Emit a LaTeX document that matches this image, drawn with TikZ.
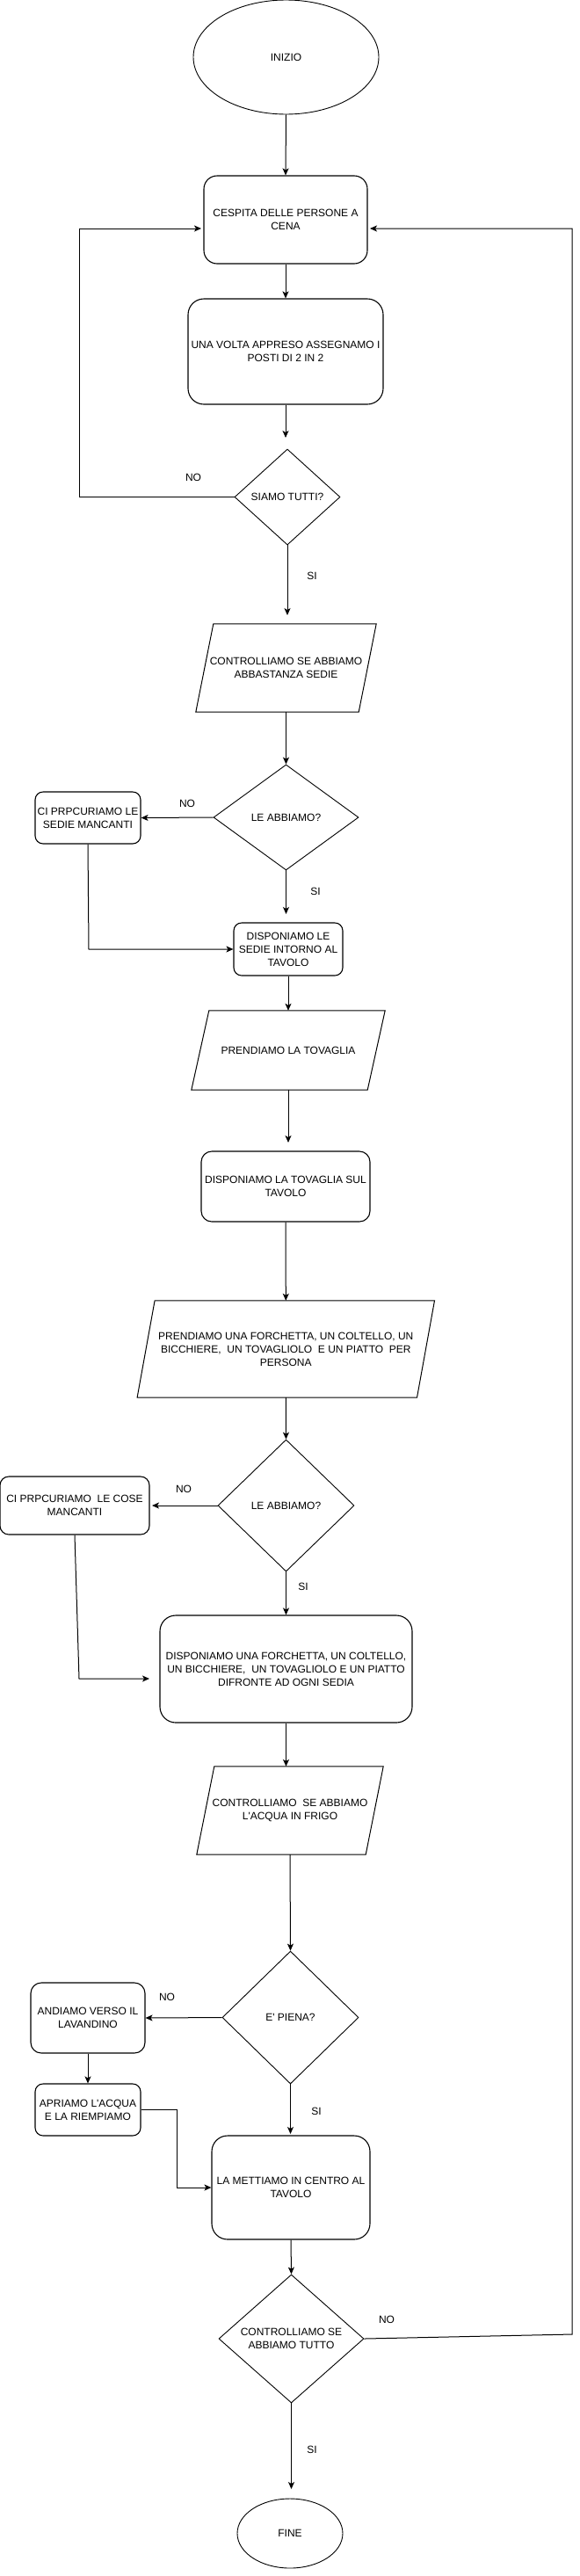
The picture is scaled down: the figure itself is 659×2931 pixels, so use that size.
\documentclass[tikz,border=0pt]{standalone}
\usepackage{fontspec}
\setmainfont{Liberation Sans}[Ligatures=TeXOff]
\usetikzlibrary{shapes.geometric,arrows.meta,calc}
\begin{document}
\begin{tikzpicture}[x=1pt,y=-1pt,
  every node/.style={font=\fontsize{12}{15}\selectfont, align=center, inner sep=0pt},
  box/.style={draw, rectangle, line width=1.1pt},
  dia/.style={draw, diamond, aspect=1, line width=0.9pt},
  ell/.style={draw, ellipse, line width=0.9pt},
  arr/.style={-{Stealth[length=8pt,width=7pt,inset=2pt]}, line width=1pt},
  ln/.style={line width=1pt},
  lbl/.style={}
]
\useasboundingbox (0,0) rectangle (659,2931);

% nodes
\node[ell, minimum width=211pt, minimum height=130pt] (inizio) at (325.5,65) {INIZIO};
\node[box, rounded corners=15pt, minimum width=186pt, minimum height=100pt] (b1) at (325,250) {CESPITA DELLE PERSONE A\\CENA};
\node[box, rounded corners=18pt, minimum width=222pt, minimum height=120pt] (b2) at (325,400) {UNA VOLTA APPRESO ASSEGNAMO I\\POSTI DI 2 IN 2};
\node[dia, minimum width=120pt, minimum height=109pt] (d1) at (327,565.5) {SIAMO TUTTI?};
\node[minimum width=185pt, minimum height=100pt] (p1) at (325.5,760) {CONTROLLIAMO SE ABBIAMO\\ABBASTANZA SEDIE};
\node[dia, minimum width=165pt, minimum height=120pt] (d2) at (325.5,930) {LE ABBIAMO?};
\node[box, rounded corners=9pt, minimum width=120pt, minimum height=59pt] (s1) at (100,930.5) {CI PRPCURIAMO LE\\SEDIE MANCANTI};
\node[box, rounded corners=9pt, minimum width=124pt, minimum height=60pt] (m1) at (328,1080) {DISPONIAMO LE\\SEDIE INTORNO AL\\TAVOLO};
\node[minimum width=200pt, minimum height=90pt] (p2) at (328,1195) {PRENDIAMO LA TOVAGLIA};
\node[box, rounded corners=12pt, minimum width=192pt, minimum height=80pt] (tov) at (325,1350) {DISPONIAMO LA TOVAGLIA SUL\\TAVOLO};
\node[minimum width=318pt, minimum height=110pt] (p3) at (325.3,1535) {PRENDIAMO UNA FORCHETTA, UN COLTELLO, UN\\BICCHIERE,\ \ UN TOVAGLIOLO\ \ E UN PIATTO\ \ PER\\PERSONA};
\node[dia, minimum width=155pt, minimum height=150pt] (d3) at (325.5,1713) {LE ABBIAMO?};
\node[box, rounded corners=10pt, minimum width=170pt, minimum height=66pt] (s2) at (85,1713) {CI PRPCURIAMO\ \ LE COSE\\MANCANTI};
\node[box, rounded corners=18pt, minimum width=287pt, minimum height=122pt] (f1) at (325.5,1899) {DISPONIAMO UNA FORCHETTA, UN COLTELLO,\\UN BICCHIERE,\ \ UN TOVAGLIOLO E UN PIATTO\\DIFRONTE AD OGNI SEDIA};
\node[minimum width=192pt, minimum height=100pt] (p4) at (330,2060) {CONTROLLIAMO\ \ SE ABBIAMO\\L'ACQUA IN FRIGO};
\node[dia, minimum width=155pt, minimum height=151pt] (d4) at (330.5,2295.5) {E' PIENA?};
\node[box, rounded corners=12pt, minimum width=130pt, minimum height=80pt] (lav) at (100,2296) {ANDIAMO VERSO IL\\LAVANDINO};
\node[box, rounded corners=9pt, minimum width=120pt, minimum height=59pt] (apr) at (100,2400.5) {APRIAMO L'ACQUA\\E LA RIEMPIAMO};
\node[box, rounded corners=18pt, minimum width=180pt, minimum height=118pt] (met) at (331,2489) {LA METTIAMO IN CENTRO AL\\TAVOLO};
\node[dia, minimum width=165pt, minimum height=146pt] (d5) at (331.5,2661) {CONTROLLIAMO SE\\ABBIAMO TUTTO};
\node[ell, minimum width=120pt, minimum height=79pt] (fine) at (330,2882.5) {FINE};

% parallelograms
\foreach \p/\s in {p1/10pt, p2/10pt, p3/10pt, p4/10pt}{
  \draw[ln] ([xshift=\s]\p.north west) -- ([xshift=\s]\p.north east) -- ([xshift=-\s]\p.south east) -- ([xshift=-\s]\p.south west) -- cycle;
}

% labels
\node[lbl] (no1) at (220,543) {NO};
\node[lbl] (si1) at (355,655) {SI};
\node[lbl] (no2) at (213,914) {NO};
\node[lbl] (si2) at (359,1014) {SI};
\node[lbl] (no3) at (209,1694) {NO};
\node[lbl] (si3) at (345,1805) {SI};
\node[lbl] (no4) at (190,2272) {NO};
\node[lbl] (si4) at (360,2402) {SI};
\node[lbl] (no5) at (440,2639) {NO};
\node[lbl] (si5) at (355,2787) {SI};

% free ends
\coordinate (a1) at (325,498);
\coordinate (a2) at (327,700);
\coordinate (a3) at (325.5,1040);
\coordinate (a4) at (328,1300);
\coordinate (a5) at (173,1713);
\coordinate (a6) at (330.5,2428);
\coordinate (a7) at (331.5,2832);
\coordinate (l1) at (90,565.5);
\coordinate (l2) at (90,260);
\coordinate (l3) at (229,260);
\coordinate (k1) at (101,1080);
\coordinate (k2) at (90,1910);
\coordinate (k2e) at (170,1910);
\coordinate (k3) at (201,2400.5);
\coordinate (r1) at (651,2656);
\coordinate (r2) at (651,260);
\coordinate (r3) at (421,260);

% connectors
\draw[arr] (inizio.south) -- (b1.north);
\draw[arr] (b1.south) -- (b2.north);
\draw[arr] (b2.south) -- (a1);
\draw[arr] (d1.west) -- (l1) -- (l2) -- (l3);
\draw[arr] (d1.south) -- (a2);
\draw[arr] (p1.south) -- (d2.north);
\draw[arr] (d2.west) -- (s1.east);
\draw[arr] (s1.south) -- (k1) -- (m1.west);
\draw[arr] (d2.south) -- (a3);
\draw[arr] (m1.south) -- (p2.north);
\draw[arr] (p2.south) -- (a4);
\draw[arr] (tov.south) -- (p3.north);
\draw[arr] (p3.south) -- (d3.north);
\draw[arr] (d3.west) -- (a5);
\draw[arr] (s2.south) -- (k2) -- (k2e);
\draw[arr] (d3.south) -- (f1.north);
\draw[arr] (f1.south) -- (f1.south |- p4.north);
\draw[arr] (p4.south) -- (d4.north);
\draw[arr] (d4.west) -- (lav.east);
\draw[arr] (lav.south) -- (apr.north);
\draw[arr] (apr.east) -- (k3) |- (met.west);
\draw[arr] (d4.south) -- (a6);
\draw[arr] (met.south) -- (d5.north);
\draw[arr] (d5.east) -- (r1) -- (r2) -- (r3);
\draw[arr] (d5.south) -- (a7);
\end{tikzpicture}
\end{document}
